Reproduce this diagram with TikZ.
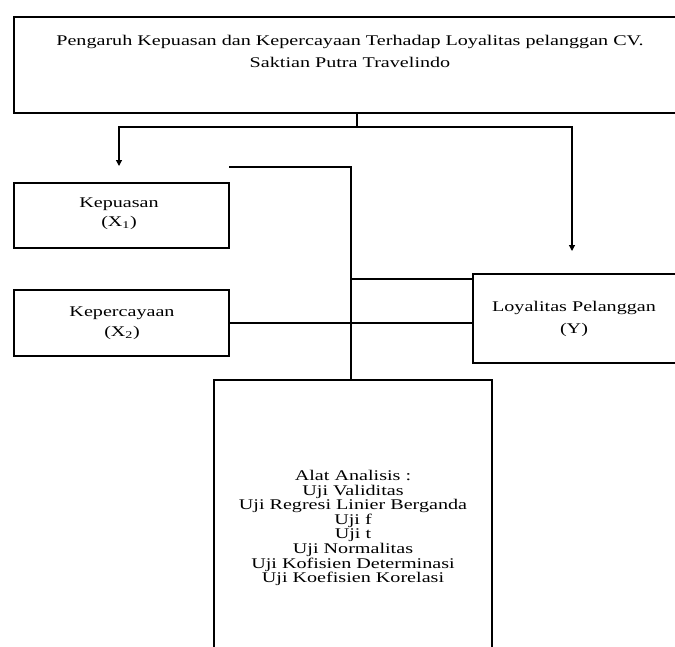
\documentclass[tikz,border=0pt]{standalone}
\usepackage{fontspec}
\setmainfont{Liberation Serif}[FakeStretch=1.36]
\usetikzlibrary{arrows.meta}
\begin{document}
\begin{tikzpicture}[x=1pt,y=-1pt,
  box/.style={draw, line width=1.2pt, inner sep=0pt, outer sep=0pt, anchor=north west},
  lbl/.style={align=center, inner sep=0pt, text=black},
  conn/.style={line width=1.2pt},
  arr/.style={line width=1.2pt, -{Triangle[width=6pt,length=6pt]}}]
\useasboundingbox (0,0) rectangle (675,646);
% boxes
\node[box, minimum width=672pt, minimum height=96pt] (top) at (14,17) {};
\node[box, minimum width=215pt, minimum height=65pt] (kep) at (14,183) {};
\node[box, minimum width=215pt, minimum height=66pt] (kpc) at (14,290) {};
\node[box, minimum width=203pt, minimum height=89pt] (loy) at (473,274) {};
\node[box, minimum width=278pt, minimum height=280pt] (alat) at (214,380) {};
% texts
\node[lbl, font=\fontsize{14.8}{22}\selectfont] (ttop) at (350,51) {Pengaruh Kepuasan dan Kepercayaan Terhadap Loyalitas pelanggan CV.\\Saktian Putra Travelindo};
\node[lbl, font=\fontsize{14.8}{19}\selectfont] (tkep) at (119,214) {Kepuasan\\(X\textsubscript{1})};
\node[lbl, font=\fontsize{14.8}{20}\selectfont] (tkpc) at (122,323) {Kepercayaan\\(X\textsubscript{2})};
\node[lbl, font=\fontsize{14.8}{22}\selectfont] (tloy) at (574,319) {Loyalitas Pelanggan\\(Y)};
\node[lbl, font=\fontsize{14.8}{14.6}\selectfont] (talat) at (353,528) {Alat Analisis :\\Uji Validitas\\Uji Regresi Linier Berganda\\Uji f\\Uji t\\Uji Normalitas\\Uji Kofisien Determinasi\\Uji Koefisien Korelasi};
% connectors
\coordinate (j) at (357,127);
\coordinate (a1) at (119,166);
\coordinate (a2) at (572,251);
\draw[conn] (top.south -| j) -- (j);
\draw[arr] (j) -| (a1);
\draw[arr] (j) -| (a2);
\coordinate (s) at (229,167);
\coordinate (v) at (351,167);
\coordinate (h) at (351,279);
\draw[conn] (s) -- (v) -- (v |- alat.north);
\draw[conn] (h) -- (h -| loy.west);
\draw[conn] (kpc.east) -- (kpc.east -| loy.west);
\end{tikzpicture}
\end{document}
